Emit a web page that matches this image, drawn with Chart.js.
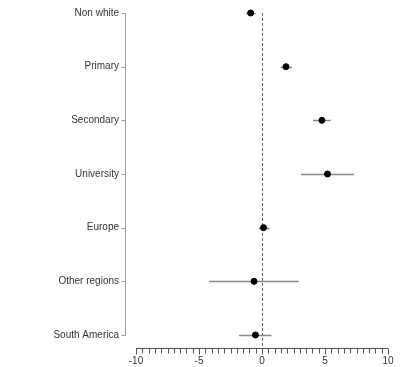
<!DOCTYPE html>
<html lang="en">
<head>
  <meta charset="UTF-8">
  <title>Coefficient plot</title>
  <script src="https://cdn.jsdelivr.net/npm/chart.js"></script>
  <style>
    html, body { margin: 0; padding: 0; background: #fff; }
    .chart-box { position: relative; width: 400px; height: 367px; }
  </style>
</head>
<body>
  <div class="chart-box">
    <canvas id="coefChart"></canvas>
  </div>
  <script>
    // Data
    const categories = ['Non white', 'Primary', 'Secondary', 'University', 'Europe', 'Other regions', 'South America'];
    const estimates = [-0.9, 1.9, 4.75, 5.2, 0.12, -0.63, -0.52];
    const lower = [-1.25, 1.48, 4.05, 3.1, -0.26, -4.2, -1.83];
    const upper = [-0.5, 2.38, 5.45, 7.3, 0.6, 2.9, 0.75];
    const xTicks = [-10, -5, 0, 5, 10];

    // detached R-style axes, zero line and error bars
    const rStyle = {
      id: 'rStyle',
      beforeDatasetsDraw(chart) {
        const ctx = chart.ctx;
        const xs = chart.scales.x, ys = chart.scales.y;
        const area = chart.chartArea;
        const axisY = area.bottom + 13;
        const axisX = area.left - 11;
        ctx.save();

        // zero reference line
        ctx.strokeStyle = '#666';
        ctx.lineWidth = 1;
        ctx.setLineDash([3, 2]);
        const zx = Math.round(xs.getPixelForValue(0)) + 0.5;
        ctx.beginPath();
        ctx.moveTo(zx, area.top);
        ctx.lineTo(zx, axisY);
        ctx.stroke();
        ctx.setLineDash([]);

        // error bars
        ctx.strokeStyle = '#888';
        ctx.lineWidth = 1.5;
        categories.forEach((c, i) => {
          const y = Math.round(ys.getPixelForValue(i)) + 0.5;
          ctx.beginPath();
          ctx.moveTo(xs.getPixelForValue(lower[i]), y);
          ctx.lineTo(xs.getPixelForValue(upper[i]), y);
          ctx.stroke();
        });

        // y axis
        ctx.strokeStyle = '#999';
        ctx.lineWidth = 1;
        const ax = Math.round(axisX) + 0.5;
        ctx.beginPath();
        ctx.moveTo(ax, Math.round(ys.getPixelForValue(0)) + 0.5);
        ctx.lineTo(ax, Math.round(ys.getPixelForValue(categories.length - 1)) + 0.5);
        categories.forEach((c, i) => {
          const y = Math.round(ys.getPixelForValue(i)) + 0.5;
          ctx.moveTo(ax, y);
          ctx.lineTo(ax - 4, y);
        });
        ctx.stroke();

        // x axis with minor ticks every 0.5
        ctx.strokeStyle = '#555';
        const ay = Math.round(axisY) + 0.5;
        ctx.beginPath();
        ctx.moveTo(xs.getPixelForValue(xs.min), ay);
        ctx.lineTo(xs.getPixelForValue(xs.max), ay);
        for (let v = xs.min; v <= xs.max + 1e-9; v += 0.5) {
          const px = Math.round(xs.getPixelForValue(v)) + 0.5;
          ctx.moveTo(px, ay);
          ctx.lineTo(px, ay + (v % 5 === 0 ? 6 : 5));
        }
        ctx.stroke();
        ctx.restore();
      }
    };

    const ctx = document.getElementById('coefChart').getContext('2d');
    new Chart(ctx, {
      type: 'scatter',
      data: {
        datasets: [{
          data: estimates.map((v, i) => ({ x: v, y: i })),
          backgroundColor: '#000',
          borderColor: '#000',
          pointRadius: 3,
          pointHoverRadius: 3,
          clip: false
        }]
      },
      options: {
        responsive: true,
        maintainAspectRatio: false,
        animation: false,
        layout: { padding: { top: 13, right: 12, left: 0, bottom: 0 } },
        plugins: { legend: { display: false }, tooltip: { enabled: false } },
        scales: {
          x: {
            type: 'linear',
            min: -10,
            max: 10,
            grid: { display: false, drawTicks: false },
            border: { display: false },
            afterBuildTicks: (s) => { s.ticks = xTicks.map(v => ({ value: v })); },
            afterFit: (s) => { s.height = 32; s.paddingLeft = 0; s.paddingRight = 0; },
            ticks: {
              padding: 20,
              color: '#333',
              font: { family: 'Liberation Sans', size: 10 },
              maxRotation: 0
            }
          },
          y: {
            type: 'linear',
            reverse: true,
            min: 0,
            max: categories.length - 1,
            grid: { display: false, drawTicks: false },
            border: { display: false },
            afterBuildTicks: (s) => { s.ticks = categories.map((c, i) => ({ value: i })); },
            afterFit: (s) => { s.width = 136; s.paddingTop = 0; s.paddingBottom = 0; },
            ticks: {
              padding: 17,
              color: '#333',
              font: { family: 'Liberation Sans', size: 10 },
              callback: (v) => categories[v]
            }
          }
        }
      },
      plugins: [rStyle]
    });
  </script>
</body>
</html>
